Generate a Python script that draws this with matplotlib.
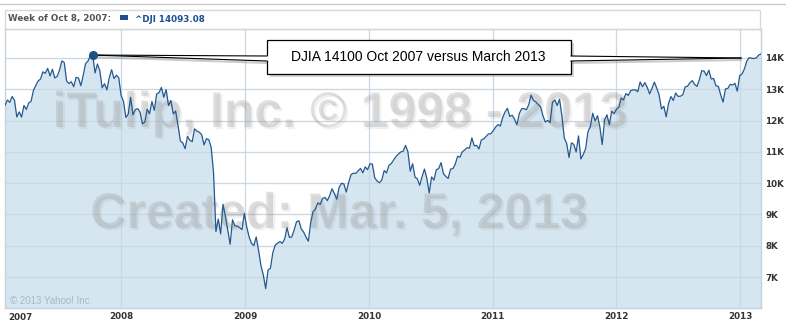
import matplotlib
matplotlib.use('Agg')
import matplotlib.pyplot as plt
import matplotlib.patheffects as pe
import matplotlib.dates as mdates
from matplotlib.patches import Rectangle, Polygon
from matplotlib.lines import Line2D
import pandas as pd

# weekly DJIA closes, week starting 2007-01-22 through 2013-03-04
dji_2007 = [12487, 12654, 12581, 12768, 12647, 12114, 12277, 12111, 12481, 12354,
            12560, 12612, 12962, 13121, 13265, 13327, 13556, 13507, 13668, 13425,
            13639, 13361, 13409, 13612, 13907, 13851, 13265, 13182, 13240, 13079,
            13379, 13358, 13113, 13442, 13820, 13896, 14066, 14093, 13522, 13807,
            13595, 13042, 13177, 12980, 13372, 13625, 13339, 13450, 13366]
dji_2008 = [12800, 12606, 12099, 12207, 12743, 12182, 12348, 12381, 12266, 11894,
            11951, 12361, 12216, 12610, 12325, 12849, 12891, 13058, 12745, 12986,
            12480, 12638, 12210, 12307, 11843, 11347, 11288, 11100, 11496, 11370,
            11326, 11734, 11659, 11628, 11543, 11220, 11421, 11388, 11143, 10325,
            8451, 8852, 8378, 9325, 8943, 8497, 8046, 8829, 8635, 8629,
            8579, 8515]
dji_2009 = [9034, 8599, 8281, 8077, 8001, 8280, 7850, 7366, 7063, 6627,
            7224, 7279, 7776, 8018, 8083, 8131, 8076, 8212, 8575, 8268,
            8277, 8500, 8764, 8799, 8540, 8438, 8280, 8146, 8743, 9093,
            9172, 9370, 9321, 9506, 9544, 9441, 9605, 9820, 9665, 9487,
            9865, 9996, 9972, 9713, 10023, 10270, 10318, 10310, 10389, 10471,
            10329, 10520, 10428]
dji_2010 = [10618, 10610, 10173, 10067, 10013, 10099, 10403, 10325, 10567, 10625,
            10742, 10851, 10928, 10997, 11019, 11205, 11009, 10380, 10620, 10193,
            10137, 9931, 10212, 10450, 10144, 9686, 10198, 10098, 10425, 10466,
            10654, 10303, 10214, 10151, 10448, 10463, 10608, 10860, 10829, 11006,
            11063, 11133, 11118, 11445, 11193, 11204, 11092, 11382, 11410, 11492,
            11573, 11578]
dji_2011 = [11675, 11787, 11871, 11824, 12092, 12273, 12391, 12130, 12170, 12044,
            11859, 12220, 12376, 12380, 12342, 12505, 12811, 12638, 12596, 12512,
            12441, 12151, 11952, 12004, 11934, 12583, 12657, 12480, 12681, 12143,
            11445, 11269, 10818, 11285, 11240, 10992, 11509, 10771, 10913, 11103,
            11644, 11809, 12231, 11983, 12153, 11796, 11231, 12019, 12184, 11867,
            12294, 12218]
dji_2012 = [12360, 12422, 12720, 12660, 12862, 12801, 12950, 12983, 12978, 12922,
            13233, 13081, 13212, 13060, 12850, 13029, 13228, 13038, 12821, 12369,
            12455, 12119, 12554, 12767, 12640, 12880, 12772, 12777, 12822, 13076,
            13096, 13207, 13275, 13157, 13090, 13306, 13593, 13579, 13437, 13610,
            13328, 13343, 13107, 13093, 12815, 12588, 13010, 13026, 13155, 13135,
            13190, 12938]
dji_2013 = [13435, 13488, 13650, 13896, 14010, 13993, 13982, 14001, 14090, 14128]

values = dji_2007 + dji_2008 + dji_2009 + dji_2010 + dji_2011 + dji_2012 + dji_2013
dates = pd.date_range('2007-01-22', periods=len(values), freq='7D')

peak_week = pd.Timestamp('2007-10-08')
peak_idx = list(dates).index(peak_week)

y_ticks = [7000, 8000, 9000, 10000, 11000, 12000, 13000, 14000]
y_labels = ['7K', '8K', '9K', '10K', '11K', '12K', '13K', '14K']
x_years = ['2008', '2009', '2010', '2011', '2012', '2013']

W, H = 786, 325
fig = plt.figure(figsize=(W / 100, H / 100), dpi=100)


def fx(px):
    return px / W


def fy(py):
    return 1 - py / H


ax = fig.add_axes([fx(5), fy(308), fx(761) - fx(5), fy(29) - fy(308)])

line_col = '#24588f'
fill_col = '#d6e6f1'
grid_col = '#c7d7e3'

ax.fill_between(dates, values, 6000, color=fill_col, lw=0, zorder=1)
ax.plot(dates, values, color=line_col, lw=0.9, zorder=4)
ax.plot(dates[peak_idx], values[peak_idx], 'o', ms=5.5, color='#1d4f85', zorder=9)

ax.set_xlim(dates[0], dates[-1])
ax.set_ylim(6010, 14925)

ax.set_yticks(y_ticks)
ax.set_yticklabels(y_labels)
ax.yaxis.tick_right()
ax.set_xticks([pd.Timestamp(y + '-01-01') for y in x_years])
ax.set_xticklabels(x_years)
ax.tick_params(axis='both', length=0, labelsize=6.3, labelcolor='#333333')
ax.tick_params(axis='y', pad=3)
ax.tick_params(axis='x', pad=3)
for lbl in ax.get_xticklabels() + ax.get_yticklabels():
    lbl.set_fontweight('bold')
ax.grid(True, color=grid_col, lw=0.9)
for s in ax.spines.values():
    s.set_color('#c5d3de')
    s.set_linewidth(1)

# first year label sits at the left edge
ax.text(fx(8), fy(320), '2007', transform=fig.transFigure, fontsize=6.3,
        fontweight='bold', color='#333333', va='baseline', ha='left', clip_on=False)

# watermark
wm = dict(transform=fig.transFigure, fontsize=36, fontweight='bold',
          family='Liberation Sans', color='#9a9a9a', alpha=0.3, ha='center',
          va='baseline', zorder=3,
          path_effects=[pe.withSimplePatchShadow(offset=(1.5, -1.5),
                                                  shadow_rgbFace='#888888', alpha=0.12)])
ax.text(fx(340), fy(127), 'iTulip, Inc. \u00a9 1998 - 2013', **wm)
ax.text(fx(339), fy(228), 'Created: Mar. 5, 2013', **wm)

ax.text(fx(10), fy(304), '\u00a9 2013 Yahoo! Inc.', transform=fig.transFigure,
        fontsize=7, family='Liberation Sans', color='#a9b8c5', va='baseline')

# header strip
fig.add_artist(Line2D([0, 1], [fy(4), fy(4)], color='#cccccc', lw=1))
fig.add_artist(Rectangle((fx(5), fy(29)), fx(760) - fx(5), fy(10) - fy(29),
                         fill=False, ec='#d9d9d9', lw=1))
fig.text(fx(8), fy(21.5), 'Week of Oct 8, 2007:', fontsize=6.3, fontweight='bold',
         color='#555555', va='baseline')
fig.add_artist(Rectangle((fx(120), fy(19.5)), fx(8), fy(15.5) - fy(19.5),
                         color='#1f4f8f', lw=0))
fig.text(fx(135), fy(21.5), '^DJI %.2f' % 14093.08, fontsize=6.3, fontweight='bold',
         color='#1f4f8f', va='baseline')

# callout box and pointers
fig.canvas.draw()
tip = fig.transFigure.inverted().transform(
    ax.transData.transform((mdates.date2num(dates[peak_idx]), values[peak_idx])))
tip_r = (fx(741), fy(58))

box = dict(transform=fig.transFigure, clip_on=False)
ax.add_patch(Rectangle((fx(270), fy(77)), fx(571) - fx(267), fy(40) - fy(74),
                       fc='#888888', alpha=0.35, lw=0, zorder=6, **box))
ax.add_patch(Rectangle((fx(267), fy(74)), fx(571) - fx(267), fy(40) - fy(74),
                       fc='white', ec='black', lw=0.9, zorder=7, **box))

for t, bx, inner in [(tip, fx(267), fx(268.5)), (tip_r, fx(571), fx(569.5))]:
    ax.add_line(Line2D([t[0], bx], [t[1] - fy(0) + fy(2), fy(63)], color='#999999',
                       lw=1.5, alpha=0.5, zorder=6, **box))
    ax.add_patch(Polygon([t, (inner, fy(56)), (inner, fy(61))], closed=True,
                         fc='white', ec='none', zorder=8, **box))
    ax.add_line(Line2D([t[0], bx], [t[1], fy(56)], color='black', lw=0.8, zorder=8, **box))
    ax.add_line(Line2D([t[0], bx], [t[1], fy(61)], color='black', lw=0.8, zorder=8, **box))

ax.text(fx(418), fy(57), 'DJIA 14100 Oct 2007 versus March 2013', transform=fig.transFigure,
        fontsize=10, family='Liberation Sans', color='black', ha='center', va='center',
        zorder=9)

fig.savefig('out.png', dpi=100)
plt.close(fig)
